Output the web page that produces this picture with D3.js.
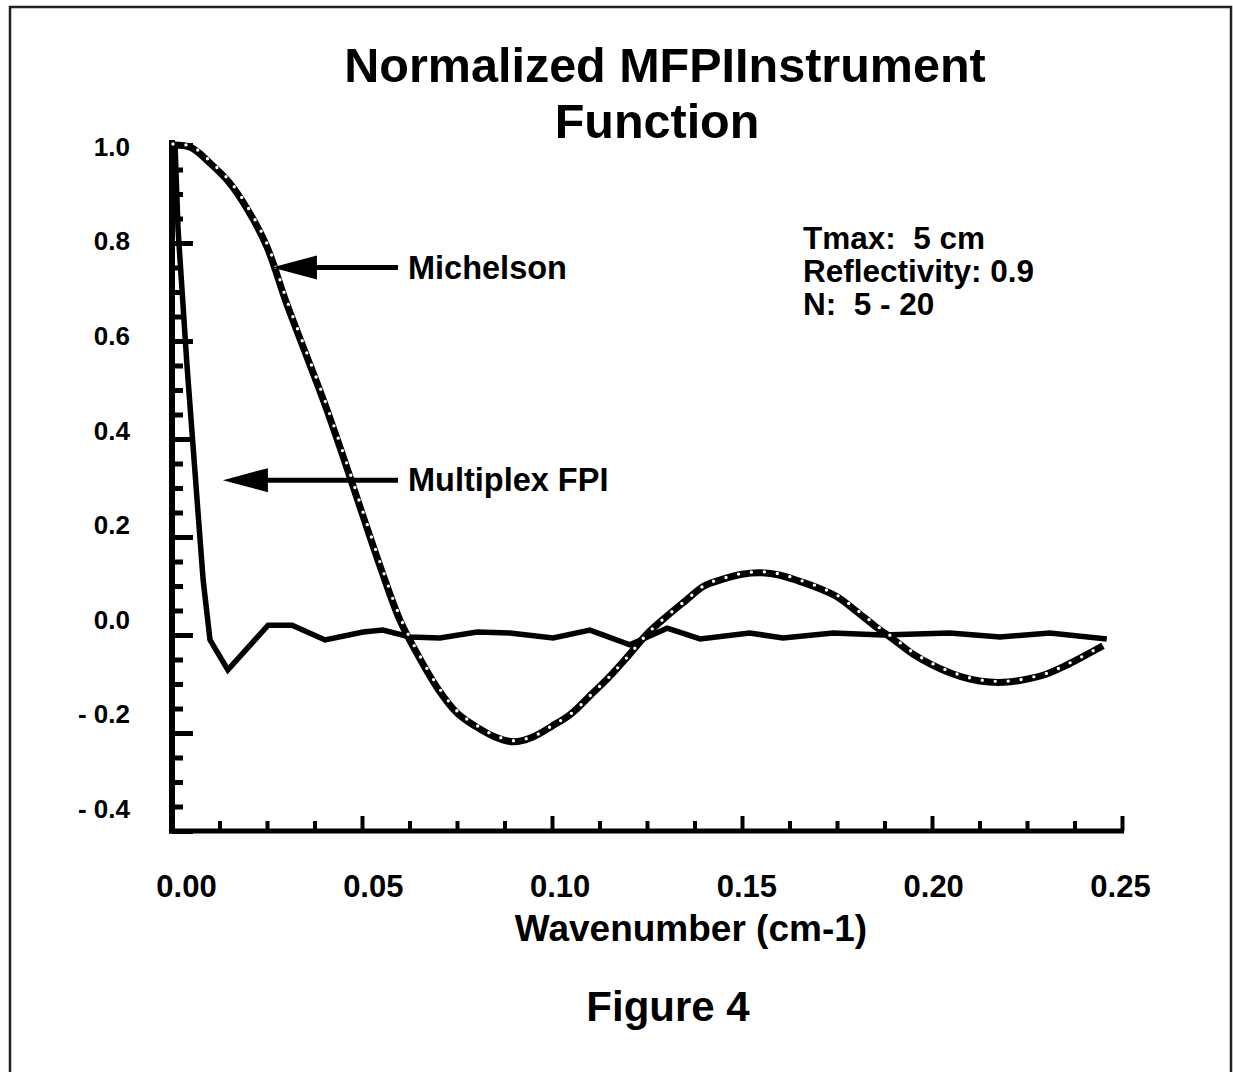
<!DOCTYPE html>
<html>
<head>
  <meta charset="utf-8">
  <title>Normalized MFPI Instrument Function</title>
  <script src="https://d3js.org/d3.v7.min.js"></script>
  <style>
    html, body { margin: 0; height: 100%; overflow: hidden; background: #fff; }
    #chart { width: 1233px; height: 1072px; }
    text { font-family: 'Liberation Sans', Arial, Helvetica, sans-serif; font-weight: bold; fill: #000; white-space: pre; }
  </style>
</head>
<body>
  <div id="chart"></div>
  <script>
    // Michelson instrument function, sampled every 0.005 cm-1
    const michelsonWavenumber = [0.000, 0.005, 0.010, 0.015, 0.020, 0.025, 0.030, 0.035, 0.040, 0.045,
      0.050, 0.055, 0.060, 0.065, 0.070, 0.075, 0.080, 0.085, 0.090, 0.095,
      0.100, 0.105, 0.110, 0.115, 0.120, 0.125, 0.130, 0.135, 0.140, 0.145,
      0.150, 0.155, 0.160, 0.165, 0.170, 0.175, 0.180, 0.185, 0.190, 0.195,
      0.200, 0.205, 0.210, 0.215, 0.220, 0.225, 0.230, 0.235, 0.240, 0.245];
    const michelsonValue = [1.000, 0.995, 0.963, 0.924, 0.867, 0.792, 0.680, 0.578, 0.476, 0.365,
      0.249, 0.135, 0.030, -0.045, -0.110, -0.159, -0.187, -0.208, -0.218, -0.208,
      -0.186, -0.161, -0.124, -0.086, -0.043, 0.002, 0.037, 0.069, 0.100, 0.114,
      0.124, 0.127, 0.122, 0.110, 0.096, 0.078, 0.049, 0.018, -0.010, -0.039,
      -0.061, -0.078, -0.090, -0.096, -0.096, -0.090, -0.080, -0.063, -0.043, -0.022];

    // Multiplex FPI instrument function (corner points of the plotted polyline)
    const fpiWavenumber = [0.0008, 0.0016, 0.0039, 0.0068, 0.0082, 0.0100, 0.0147, 0.0253, 0.0316, 0.0403,
      0.0503, 0.0555, 0.0626, 0.0705, 0.0803, 0.0889, 0.1003, 0.1100, 0.1205, 0.1303,
      0.1390, 0.1520, 0.1608, 0.1740, 0.1870, 0.2047, 0.2179, 0.2310, 0.2460];
    const fpiValue = [1.000, 0.827, 0.555, 0.255, 0.112, -0.010, -0.071, 0.020, 0.020, -0.010,
      0.006, 0.010, -0.004, -0.006, 0.006, 0.004, -0.006, 0.010, -0.020, 0.014,
      -0.008, 0.004, -0.006, 0.004, 0.000, 0.004, -0.004, 0.004, -0.008];

    const xMajorTicks = [0, 0.05, 0.10, 0.15, 0.20, 0.25];
    const xMinorTicks = [0.0125, 0.025, 0.0375, 0.0625, 0.075, 0.0875, 0.1125, 0.125, 0.1375,
      0.1625, 0.175, 0.1875, 0.2125, 0.225, 0.2375];
    const yMajorTicks = [1.0, 0.8, 0.6, 0.4, 0.2, 0.0, -0.2, -0.4];
    const yMinorTicks = [0.95, 0.9, 0.85, 0.75, 0.7, 0.65, 0.55, 0.5, 0.45, 0.35, 0.3, 0.25,
      0.15, 0.1, 0.05, -0.05, -0.1, -0.15, -0.25, -0.3, -0.35];

    const titleLines = ['Normalized MFPIInstrument', 'Function'];
    const infoLines = ['Tmax:  5 cm', 'Reflectivity: 0.9', 'N:  5 - 20'];
    // arrow annotations: label, arrow tip (wavenumber, value)
    const callouts = [
      { label: 'Michelson', tip: [0.0263, 0.750] },
      { label: 'Multiplex FPI', tip: [0.0134, 0.316] }
    ];

    const svg = d3.select('#chart').append('svg')
      .attr('width', 1233)
      .attr('height', 1072);

    // page frame
    svg.append('rect')
      .attr('x', 10).attr('y', 7)
      .attr('width', 1221).attr('height', 1090)
      .attr('fill', 'none')
      .attr('stroke', '#222')
      .attr('stroke-width', 2.5);

    const x = d3.scaleLinear().domain([0, 0.25]).range([172, 1122]);
    const y = d3.scaleLinear().domain([-0.4, 1.0]).range([831, 145]);
    // the hand-lettered tick labels sit on a slightly tighter grid than the ticks
    const xLabel = d3.scaleLinear().domain([0, 0.25]).range([186, 1120]);
    const yLabel = d3.scaleLinear().domain([-0.4, 1.0]).range([809, 147]);

    // title
    svg.append('g').selectAll('text')
      .data(titleLines)
      .join('text')
      .attr('x', (d, i) => i === 0 ? 665 : 657)
      .attr('y', (d, i) => 82 + i * 56)
      .attr('text-anchor', 'middle')
      .attr('font-size', 48.5)
      .text(d => d);

    // y axis: minor ticks, major ticks (inward), labels
    svg.append('g')
      .attr('transform', 'translate(172,0)')
      .call(d3.axisLeft(y).tickValues(yMinorTicks).tickSizeInner(-11).tickSizeOuter(0).tickFormat(''))
      .call(g => g.select('.domain').remove())
      .call(g => g.selectAll('line').attr('stroke', '#000').attr('stroke-width', 5));
    svg.append('g')
      .attr('transform', 'translate(172,0)')
      .call(d3.axisLeft(y).tickValues(yMajorTicks).tickSizeInner(-21).tickSizeOuter(0).tickFormat(''))
      .call(g => g.select('.domain').remove())
      .call(g => g.selectAll('line').attr('stroke', '#000').attr('stroke-width', 5));
    svg.append('g')
      .attr('transform', 'translate(172,0)')
      .call(d3.axisLeft(yLabel).tickValues(yMajorTicks).tickSize(0).tickPadding(42)
        .tickFormat(d => (d < 0 ? '- ' : '') + Math.abs(d).toFixed(1)))
      .call(g => g.select('.domain').remove())
      .call(g => g.selectAll('text').attr('font-size', 26).attr('font-family', null));

    // x axis
    svg.append('g')
      .attr('transform', 'translate(0,831)')
      .call(d3.axisBottom(x).tickValues(xMinorTicks).tickSizeInner(-10).tickSizeOuter(0).tickFormat(''))
      .call(g => g.select('.domain').remove())
      .call(g => g.selectAll('line').attr('stroke', '#000').attr('stroke-width', 4));
    svg.append('g')
      .attr('transform', 'translate(0,831)')
      .call(d3.axisBottom(x).tickValues(xMajorTicks).tickSizeInner(-15).tickSizeOuter(0).tickFormat(''))
      .call(g => g.select('.domain').remove())
      .call(g => g.selectAll('line').attr('stroke', '#000').attr('stroke-width', 4));
    svg.append('g')
      .attr('transform', 'translate(0,831)')
      .call(d3.axisBottom(xLabel).tickValues(xMajorTicks).tickSize(0).tickPadding(44)
        .tickFormat(d => d.toFixed(2)))
      .call(g => g.select('.domain').remove())
      .call(g => g.selectAll('text').attr('font-size', 31).attr('font-family', null));

    // axis lines
    svg.append('line')
      .attr('x1', x(0)).attr('x2', x(0))
      .attr('y1', y(1.0) - 5).attr('y2', y(-0.4) + 2.5)
      .attr('stroke', '#000').attr('stroke-width', 6);
    svg.append('line')
      .attr('x1', x(0) - 3).attr('x2', x(0.25) + 2)
      .attr('y1', y(-0.4)).attr('y2', y(-0.4))
      .attr('stroke', '#000').attr('stroke-width', 5);

    svg.append('text')
      .attr('x', 691).attr('y', 941)
      .attr('text-anchor', 'middle')
      .attr('font-size', 37)
      .text('Wavenumber (cm-1)');

    // curves
    const fpiData = fpiWavenumber.map((w, i) => [w, fpiValue[i]]);
    const michelsonData = michelsonWavenumber.map((w, i) => [w, michelsonValue[i]]);

    const fpiLine = d3.line().x(d => x(d[0])).y(d => y(d[1])).curve(d3.curveLinear);
    const michLine = d3.line().x(d => x(d[0])).y(d => y(d[1])).curve(d3.curveCatmullRom);

    svg.append('path')
      .datum(fpiData)
      .attr('d', fpiLine)
      .attr('fill', 'none')
      .attr('stroke', '#000')
      .attr('stroke-width', 5.5)
      .attr('stroke-linejoin', 'miter');

    svg.append('path')
      .datum(michelsonData)
      .attr('d', michLine)
      .attr('fill', 'none')
      .attr('stroke', '#000')
      .attr('stroke-width', 7);

    svg.append('path')
      .datum(michelsonData)
      .attr('d', michLine)
      .attr('transform', 'translate(1,-1)')
      .attr('fill', 'none')
      .attr('stroke', '#fff')
      .attr('stroke-width', 3.4)
      .attr('stroke-linecap', 'round')
      .attr('stroke-dasharray', '0,13');

    // arrows with labels
    const shaftEnd = 398;
    const call = svg.append('g').selectAll('g')
      .data(callouts)
      .join('g');
    call.append('line')
      .attr('x1', d => x(d.tip[0]) + 40).attr('x2', shaftEnd)
      .attr('y1', d => y(d.tip[1])).attr('y2', d => y(d.tip[1]))
      .attr('stroke', '#000').attr('stroke-width', 5);
    call.append('path')
      .attr('d', d => {
        const tx = x(d.tip[0]), ty = y(d.tip[1]);
        return `M${tx},${ty}L${tx + 45},${ty - 12}L${tx + 45},${ty + 12}Z`;
      })
      .attr('fill', '#000');
    call.append('text')
      .attr('x', 408)
      .attr('y', d => y(d.tip[1]) + 11)
      .attr('font-size', 32.5)
      .text(d => d.label);

    // run parameters
    svg.append('g').selectAll('text')
      .data(infoLines)
      .join('text')
      .attr('x', 803)
      .attr('y', (d, i) => 249 + i * 33)
      .attr('font-size', 31.5)
      .text(d => d);

    svg.append('text')
      .attr('x', 668).attr('y', 1021)
      .attr('text-anchor', 'middle')
      .attr('font-size', 42)
      .text('Figure 4');
  </script>
</body>
</html>
